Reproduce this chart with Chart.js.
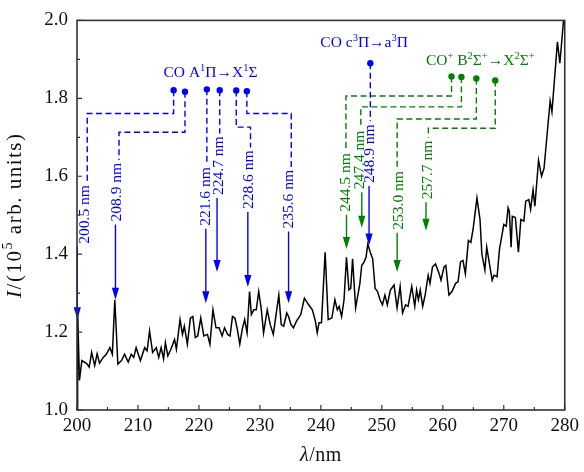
<!DOCTYPE html>
<html>
<head>
<meta charset="utf-8">
<script src="https://cdn.jsdelivr.net/npm/chart.js@4.4.0/dist/chart.umd.min.js"></script>
<style>
  html, body { margin: 0; padding: 0; background: #fff; }
  #wrap { width: 584px; height: 472px; }
</style>
</head>
<body>
<div id="wrap"><canvas id="c"></canvas></div>
<script>
/* spectrum */
const wavelength = [
  200.0, 200.1, 200.4, 200.8, 201.6, 202.0, 202.4, 202.9, 203.3, 203.7, 204.3, 204.8, 205.4, 205.8,
  206.2, 206.7, 207.3, 207.8, 208.4, 208.9, 209.3, 209.7, 210.4, 211.1, 211.5, 211.9, 212.4, 213.0,
  213.4, 213.8, 214.2, 214.5, 214.9, 215.4, 216.0, 216.3, 216.9, 217.3, 217.6, 218.1, 218.6, 219.0,
  219.4, 219.8, 220.3, 220.8, 221.4, 221.8, 222.3, 222.8, 223.3, 223.8, 224.2, 224.7, 225.1, 225.5,
  225.9, 226.3, 226.7, 227.1, 227.5, 227.9, 228.3, 228.6, 229.0, 229.4, 229.8, 230.2, 230.6, 231.2,
  231.7, 232.2, 233.1, 233.5, 233.9, 234.4, 234.7, 235.1, 235.5, 236.0, 236.7, 237.3, 238.0, 238.6,
  239.1, 239.4, 239.7, 240.1, 240.7, 241.2, 241.8, 242.3, 242.7, 243.0, 243.4, 243.8, 244.2, 244.6,
  244.9, 245.2, 245.7, 246.4, 246.7, 247.1, 247.4, 247.7, 248.1, 248.5, 248.9, 249.3, 249.7, 250.1,
  250.5, 250.9, 251.4, 252.0, 252.5, 253.0, 253.4, 253.9, 254.3, 254.9, 255.4, 255.7, 256.0, 256.3,
  256.7, 257.1, 257.6, 257.9, 258.3, 258.8, 259.4, 259.7, 260.2, 260.5, 261.0, 261.5, 262.1, 262.5,
  262.9, 263.3, 263.7, 264.2, 264.6, 265.0, 265.6, 266.1, 266.4, 266.9, 267.2, 267.6, 268.1, 268.4,
  268.9, 269.3, 270.0, 270.4, 270.7, 270.9, 271.2, 271.4, 271.9, 272.4, 272.8, 273.3, 273.6, 274.1,
  274.4, 274.8, 275.1, 275.7, 276.2, 276.6, 277.6, 277.9, 278.8, 279.2, 279.8, 280.0
];
const intensity = [
  1.000, 1.257, 1.076, 1.127, 1.119, 1.110, 1.148, 1.114, 1.144, 1.120, 1.135, 1.143, 1.160, 1.143,
  1.283, 1.118, 1.127, 1.143, 1.123, 1.143, 1.135, 1.160, 1.127, 1.160, 1.152, 1.203, 1.148, 1.160,
  1.135, 1.160, 1.131, 1.173, 1.139, 1.156, 1.181, 1.156, 1.232, 1.194, 1.215, 1.169, 1.236, 1.240,
  1.186, 1.190, 1.236, 1.190, 1.194, 1.169, 1.257, 1.211, 1.211, 1.190, 1.211, 1.194, 1.190, 1.240,
  1.236, 1.207, 1.169, 1.207, 1.232, 1.198, 1.304, 1.245, 1.257, 1.257, 1.304, 1.262, 1.198, 1.257,
  1.219, 1.194, 1.295, 1.219, 1.215, 1.249, 1.240, 1.219, 1.211, 1.228, 1.245, 1.287, 1.270, 1.257,
  1.228, 1.198, 1.224, 1.224, 1.405, 1.232, 1.236, 1.283, 1.257, 1.266, 1.240, 1.283, 1.392, 1.308,
  1.312, 1.388, 1.262, 1.325, 1.371, 1.380, 1.392, 1.426, 1.405, 1.388, 1.312, 1.304, 1.283, 1.270,
  1.295, 1.270, 1.308, 1.321, 1.262, 1.317, 1.249, 1.270, 1.266, 1.317, 1.266, 1.308, 1.283, 1.308,
  1.266, 1.295, 1.346, 1.325, 1.367, 1.375, 1.350, 1.333, 1.367, 1.371, 1.295, 1.304, 1.325, 1.329,
  1.380, 1.384, 1.350, 1.435, 1.430, 1.468, 1.544, 1.489, 1.401, 1.359, 1.418, 1.380, 1.333, 1.346,
  1.342, 1.413, 1.476, 1.472, 1.519, 1.511, 1.418, 1.497, 1.494, 1.405, 1.489, 1.485, 1.536, 1.540,
  1.515, 1.565, 1.523, 1.641, 1.600, 1.620, 1.793, 1.765, 1.945, 1.890, 2.000, 2.050
];
const xTicks = [200, 210, 220, 230, 240, 250, 260, 270, 280];
const yTicks = [1.0, 1.2, 1.4, 1.6, 1.8, 2.0];

const BLUE = '#0000ff';
const GREEN = '#008000';
const SERIF = "'Liberation Serif', 'DejaVu Serif', serif";

/* band assignments (data units): dot -> elbow -> leg -> label -> arrow */
const greenBands = [
  { text: '244.5 nm', dot: [261.43, 1.856], elbow: 1.806, leg: 244.11, tx: 244.11, ty: 1.584, ax: 244.20, tip: 1.413 },
  { text: '247.4 nm', dot: [263.05, 1.855], elbow: 1.778, leg: 246.55, tx: 246.39, ty: 1.642, ax: 246.71, tip: 1.468 },
  { text: '253.0 nm', dot: [265.50, 1.851], elbow: 1.747, leg: 252.51, tx: 252.80, ty: 1.538, ax: 252.51, tip: 1.354 },
  { text: '257.7 nm', dot: [268.60, 1.846], elbow: 1.723, leg: 257.63, tx: 257.52, ty: 1.616, ax: 257.24, tip: 1.460 }
];
const blueBands = [
  { text: '200.5 nm', dot: [215.85, 1.821], elbow: 1.761, leg: 201.68, tx: 201.30, ty: 1.502, ax: 200.05, tip: 1.233 },
  { text: '208.9 nm', dot: [217.71, 1.817], elbow: 1.713, leg: 206.89, tx: 206.47, ty: 1.559, ax: 206.31, tip: 1.283 },
  { text: '221.6 nm', dot: [221.30, 1.823], elbow: null, leg: 221.30, tx: 221.13, ty: 1.548, ax: 221.13, tip: 1.274 },
  { text: '224.7 nm', dot: [223.41, 1.821], elbow: null, leg: 223.41, tx: 223.30, ty: 1.627, ax: 222.97, tip: 1.354 },
  { text: '228.6 nm', dot: [226.12, 1.820], elbow: 1.726, leg: 228.46, tx: 228.19, ty: 1.591, ax: 228.02, tip: 1.316 },
  { text: '235.6 nm', dot: [227.86, 1.818], elbow: 1.761, leg: 235.14, tx: 234.82, ty: 1.541, ax: 234.70, tip: 1.274 },
  { text: '248.9 nm', dot: [248.11, 1.890], elbow: null, leg: 248.11, tx: 248.11, ty: 1.658, ax: 247.90, tip: 1.422 }
];
const groupTitles = [
  { color: BLUE, x: 221.9, y: 1.866, parts: [['CO A', ''], ['1', 's'], ['Π→X', ''], ['1', 's'], ['Σ', '']] },
  { color: BLUE, x: 247.1, y: 1.943, parts: [['CO c', ''], ['3', 's'], ['Π→a', ''], ['3', 's'], ['Π', '']] },
  { color: GREEN, x: 266.15, y: 1.896, parts: [['CO', ''], ['+', 's'], [' B', ''], ['2', 's'], ['Σ', ''], ['+', 's'],
      ['→X', ''], ['2', 's'], ['Σ', ''], ['+', 's']] }
];

/* ── helpers ── */
function drawParts(ctx, parts, x, y, size, color, spacing) {
  ctx.save();
  ctx.fillStyle = color;
  ctx.textBaseline = 'middle';
  ctx.textAlign = 'left';
  ctx.letterSpacing = (spacing || 0) + 'px';
  const fontFor = s => (s === 'i' ? 'italic ' : '') + (s === 's' ? size * 0.68 : size) + 'px ' + SERIF;
  let w = 0;
  parts.forEach(([t, s]) => { ctx.font = fontFor(s); w += ctx.measureText(t).width; });
  let cx = x - w / 2;
  parts.forEach(([t, s]) => {
    ctx.font = fontFor(s);
    ctx.fillText(t, cx, s === 's' ? y - size * 0.3 : y);
    cx += ctx.measureText(t).width;
  });
  ctx.restore();
}

function drawBand(ctx, xs, ys, b, color) {
  const fs = 15.5;
  ctx.save();
  ctx.font = fs + 'px ' + SERIF;
  const len = ctx.measureText(b.text).width;
  const tx = xs.getPixelForValue(b.tx), ty = ys.getPixelForValue(b.ty);
  const top = ty - len / 2, bottom = ty + len / 2;

  // dot
  const dx = xs.getPixelForValue(b.dot[0]), dy = ys.getPixelForValue(b.dot[1]);
  ctx.fillStyle = color;
  ctx.beginPath();
  ctx.arc(dx, dy, 3.2, 0, Math.PI * 2);
  ctx.fill();

  // dashed leader
  const lx = xs.getPixelForValue(b.leg);
  ctx.strokeStyle = color;
  ctx.lineWidth = 1.4;
  ctx.setLineDash([6, 3.5]);
  ctx.beginPath();
  ctx.moveTo(dx, dy);
  if (b.elbow !== null) {
    const ey = ys.getPixelForValue(b.elbow);
    ctx.lineTo(dx, ey);
    ctx.lineTo(lx, ey);
  }
  ctx.lineTo(lx, top - 3);
  ctx.stroke();
  ctx.setLineDash([]);

  // label
  ctx.translate(tx, ty);
  ctx.rotate(-Math.PI / 2);
  ctx.textAlign = 'center';
  ctx.textBaseline = 'middle';
  ctx.fillText(b.text, 0, 0);
  ctx.setTransform(1, 0, 0, 1, 0, 0);

  // arrow
  const ax = xs.getPixelForValue(b.ax), tipY = ys.getPixelForValue(b.tip);
  const head = 12;
  ctx.beginPath();
  ctx.moveTo(ax, bottom + 3);
  ctx.lineTo(ax, tipY - head + 1);
  ctx.stroke();
  ctx.beginPath();
  ctx.moveTo(ax, tipY);
  ctx.lineTo(ax - 3.6, tipY - head);
  ctx.lineTo(ax + 3.6, tipY - head);
  ctx.closePath();
  ctx.fill();
  ctx.restore();
}

const frameAndNotes = {
  id: 'frameAndNotes',
  afterDatasetsDraw(chart) {
    const { ctx, chartArea: a } = chart;
    const xs = chart.scales.x, ys = chart.scales.y;

    greenBands.forEach(b => drawBand(ctx, xs, ys, b, GREEN));
    blueBands.forEach(b => drawBand(ctx, xs, ys, b, BLUE));
    groupTitles.forEach(g => drawParts(ctx, g.parts, xs.getPixelForValue(g.x), ys.getPixelForValue(g.y), 15.5, g.color));

    // frame + inward ticks
    ctx.save();
    ctx.strokeStyle = '#333';
    ctx.lineWidth = 1.6;
    ctx.strokeRect(a.left, a.top, a.right - a.left, a.bottom - a.top);
    ctx.lineWidth = 1.2;
    ctx.beginPath();
    for (let v = 200; v <= 280; v += 5) {
      const x = xs.getPixelForValue(v);
      const l = v % 10 === 0 ? 5 : 3;
      ctx.moveTo(x, a.bottom);
      ctx.lineTo(x, a.bottom - l);
    }
    for (let i = 0; i <= 10; i++) {
      const y = ys.getPixelForValue(1 + i * 0.1);
      const l = i % 2 === 0 ? 5 : 3;
      ctx.moveTo(a.left, y);
      ctx.lineTo(a.left + l, y);
    }
    ctx.stroke();
    ctx.restore();

    // axis titles
    drawParts(ctx, [['λ', 'i'], ['/nm', '']], (a.left + a.right) / 2, 456, 20, '#111', 0.5);
    ctx.save();
    ctx.translate(15, (a.top + a.bottom) / 2);
    ctx.rotate(-Math.PI / 2);
    drawParts(ctx, [['I', 'i'], ['/(10', ''], ['5', 's'], [' arb. units)', '']], 0, 0, 21, '#111', 1.5);
    ctx.restore();
  }
};

new Chart(document.getElementById('c'), {
  type: 'line',
  data: {
    datasets: [{
      data: wavelength.map((w, i) => ({ x: w, y: intensity[i] })),
      borderColor: '#000',
      borderWidth: 1.5,
      pointRadius: 0,
      tension: 0,
      fill: false
    }]
  },
  options: {
    responsive: true,
    maintainAspectRatio: false,
    animation: false,
    devicePixelRatio: 1,
    layout: { padding: { top: 15, right: 16, left: 0, bottom: 0 } },
    plugins: { legend: { display: false }, tooltip: { enabled: false } },
    scales: {
      x: {
        type: 'linear', min: 200, max: 280,
        afterBuildTicks: s => { s.ticks = xTicks.map(v => ({ value: v })); },
        afterFit: s => { s.height = 62; },
        grid: { display: false, drawTicks: false },
        border: { display: false },
        ticks: { padding: 5, color: '#111', font: { family: SERIF, size: 19 } }
      },
      y: {
        type: 'linear', min: 1.0, max: 2.0,
        afterBuildTicks: s => { s.ticks = yTicks.map(v => ({ value: v })); },
        afterFit: s => { s.width = 77; },
        grid: { display: false, drawTicks: false },
        border: { display: false },
        ticks: { padding: 9, color: '#111', font: { family: SERIF, size: 19 }, callback: v => v.toFixed(1) }
      }
    }
  },
  plugins: [frameAndNotes]
});
</script>
</body>
</html>
